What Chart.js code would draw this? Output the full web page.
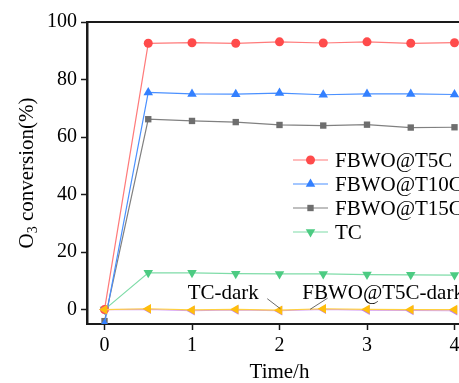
<!DOCTYPE html>
<html>
<head>
<meta charset="utf-8">
<script src="https://cdn.jsdelivr.net/npm/chart.js@4/dist/chart.umd.min.js"></script>
<style>
html,body{margin:0;padding:0;background:#fff;overflow:hidden;}
#wrap{width:480px;height:383px;}
</style>
</head>
<body>
<div id="wrap"><canvas id="c" width="480" height="383"></canvas></div>
<script>
const times = [0, 0.5, 1, 1.5, 2, 2.5, 3, 3.5, 4];
const seriesT5C = [0, 92.6, 92.8, 92.6, 93.1, 92.7, 93.1, 92.6, 92.8];
const seriesT10C = [-5, 75.5, 75.0, 74.9, 75.3, 74.7, 75.0, 75.0, 74.8];
const seriesT15C = [-4, 66.2, 65.6, 65.2, 64.2, 64.0, 64.3, 63.3, 63.4];
const seriesTC = [0, 12.8, 12.8, 12.5, 12.4, 12.4, 12.2, 12.1, 12.0];
const seriesTCdark = [0, 0.1, -0.4, -0.1, -0.4, 0.1, -0.2, -0.3, -0.4];
const seriesT5Cdark = [0, 0.3, -0.1, 0.1, -0.2, 0.3, 0.1, 0.0, 0.0];
const labels = ['FBWO@T5C', 'FBWO@T10C', 'FBWO@T15C', 'TC', 'TC-dark', 'FBWO@T5C-dark'];
const xTicks = [0, 1, 2, 3, 4];
const yTicks = [0, 20, 40, 60, 80, 100];
const xTitle = 'Time/h';
const annotations = [
  {text: 'TC-dark', x: 0.95, y: 5.6, from: [1.86, 3.8], to: [2.01, 0.3]},
  {text: 'FBWO@T5C-dark', x: 2.26, y: 5.6, from: [2.55, 4.0], to: [2.35, 0.1]}
];

const FONT = 'Liberation Serif';
const pts = v => times.map((t, i) => ({x: t, y: v[i]}));

function ds(label, vals, line, mark, style, radius, rotation, order) {
  return {
    label, data: pts(vals), borderColor: line, backgroundColor: mark,
    pointBackgroundColor: mark, pointBorderColor: mark, pointBorderWidth: 0,
    borderWidth: 1.2, pointStyle: style, pointRadius: radius, pointRotation: rotation,
    tension: 0, order
  };
}

const datasets = [
  ds(labels[0], seriesT5C, '#FF7A7A', '#FF4B4B', 'circle', 4.5, 0, 2),
  ds(labels[1], seriesT10C, '#4A90FF', '#3380FF', 'triangle', 5.5, 0, 3),
  ds(labels[2], seriesT15C, '#808080', '#6E6E6E', 'rect', 4.5, 0, 4),
  ds(labels[3], seriesTC, '#7FDCA8', '#4CCB82', 'triangle', 5.5, 180, 5),
  ds(labels[4], seriesTCdark, '#D49CF5', '#C07FEE', 'triangle', 5.5, -90, 1),
  ds(labels[5], seriesT5Cdark, '#FFD040', '#FFBE0B', 'triangle', 5.5, -90, 0)
];

const decor = {
  id: 'decor',
  afterDatasetsDraw(chart) {
    const {ctx, chartArea: a, scales} = chart;
    const xs = scales.x, ys = scales.y;
    ctx.save();
    ctx.strokeStyle = '#1a1a1a';
    ctx.lineWidth = 2;
    ctx.beginPath();
    ctx.moveTo(a.left, a.top); ctx.lineTo(a.right, a.top); ctx.lineTo(a.right, a.bottom);
    ctx.stroke();
    ctx.font = '21px "' + FONT + '"';
    ctx.fillStyle = '#000';
    ctx.textBaseline = 'middle';
    ctx.textAlign = 'left';
    annotations.forEach(an => {
      ctx.fillText(an.text, xs.getPixelForValue(an.x), ys.getPixelForValue(an.y));
      ctx.strokeStyle = '#444';
      ctx.lineWidth = 0.8;
      ctx.beginPath();
      ctx.moveTo(xs.getPixelForValue(an.from[0]), ys.getPixelForValue(an.from[1]));
      ctx.lineTo(xs.getPixelForValue(an.to[0]), ys.getPixelForValue(an.to[1]));
      ctx.stroke();
    });
    const lx0 = 293, lx1 = 328, tx = 335;
    const rowY = [160, 184, 208, 232];
    for (let i = 0; i < 4; i++) {
      const d = chart.data.datasets[i];
      const y = rowY[i];
      ctx.strokeStyle = d.borderColor;
      ctx.lineWidth = 1.2;
      ctx.beginPath(); ctx.moveTo(lx0, y); ctx.lineTo(lx1, y); ctx.stroke();
      ctx.fillStyle = d.pointBackgroundColor;
      ctx.strokeStyle = d.pointBorderColor;
      Chart.helpers.drawPoint(ctx, {pointStyle: d.pointStyle, radius: d.pointRadius, rotation: d.pointRotation, borderWidth: 0}, (lx0 + lx1) / 2, y);
      ctx.fillStyle = '#000';
      ctx.font = '21px "' + FONT + '"';
      ctx.fillText(d.label, tx, y + 1);
    }
    ctx.textAlign = 'center';
    ctx.fillText(xTitle, (a.left + a.right) / 2, 372);
    ctx.translate(27, (a.top + a.bottom) / 2);
    ctx.rotate(-Math.PI / 2);
    const big = '21px "' + FONT + '"', small = '14px "' + FONT + '"';
    ctx.font = big; const w1 = ctx.measureText('O').width;
    ctx.font = small; const w2 = ctx.measureText('3').width;
    ctx.font = big; const w3 = ctx.measureText(' conversion(%)').width;
    let x = -(w1 + w2 + w3) / 2;
    ctx.textAlign = 'left';
    ctx.font = big; ctx.fillText('O', x, 0); x += w1;
    ctx.font = small; ctx.fillText('3', x, 6); x += w2;
    ctx.font = big; ctx.fillText(' conversion(%)', x, 0);
    ctx.restore();
  }
};

new Chart(document.getElementById('c'), {
  type: 'line',
  data: {datasets},
  options: {
    responsive: false,
    animation: false,
    events: [],
    layout: {padding: {top: 22, right: 8, left: 0, bottom: 0}},
    plugins: {legend: {display: false}, tooltip: {enabled: false}},
    scales: {
      x: {
        type: 'linear', min: -0.2, max: 4.2,
        afterBuildTicks: s => { s.ticks = xTicks.map(v => ({value: v})); },
        afterFit: s => { s.height = 59; },
        grid: {drawOnChartArea: false, drawTicks: true, tickLength: 6, tickWidth: 1.5, tickColor: '#1a1a1a'},
        border: {display: true, width: 2, color: '#1a1a1a'},
        ticks: {font: {family: FONT, size: 20}, color: '#000', padding: 4, maxRotation: 0}
      },
      y: {
        type: 'linear', min: -5, max: 100,
        afterBuildTicks: s => { s.ticks = yTicks.map(v => ({value: v})); },
        afterFit: s => { s.width = 87; },
        grid: {drawOnChartArea: false, drawTicks: true, tickLength: 6, tickWidth: 1.5, tickColor: '#1a1a1a'},
        border: {display: true, width: 2.5, color: '#1a1a1a'},
        ticks: {font: {family: FONT, size: 20}, color: '#000', padding: 4}
      }
    }
  },
  plugins: [decor]
});
</script>
</body>
</html>
